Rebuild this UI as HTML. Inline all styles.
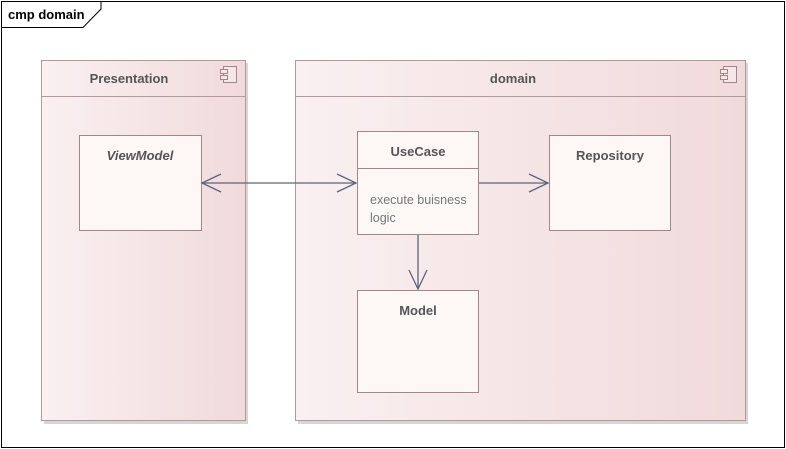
<!DOCTYPE html>
<html><head><meta charset="utf-8"><style>
body{margin:0;width:786px;height:449px;background:#fff;overflow:hidden}
svg{display:block}
text{font-family:"Liberation Sans",sans-serif}
</style></head><body>
<svg width="786" height="449" viewBox="0 0 786 449">
<defs>
<linearGradient id="g" x1="0" x2="1" y1="0" y2="0">
<stop offset="0" stop-color="#faf0f1"/><stop offset="1" stop-color="#f1dadb"/>
</linearGradient>
</defs>
<rect x="1.5" y="1.5" width="783" height="446" fill="#fff" stroke="#000" stroke-width="1"/>
<path d="M1.5 27.5 H83 L101 9 V1.5" fill="none" stroke="#000"/>
<text x="8" y="19" font-size="13" font-weight="bold" fill="#000">cmp domain</text>

<!-- Presentation -->
<rect x="44" y="63" width="204" height="361" fill="#d6d6d6"/>
<rect x="41.5" y="60.5" width="204" height="360" fill="url(#g)" stroke="#b09a9b"/>
<line x1="41.5" y1="96.5" x2="245.5" y2="96.5" stroke="#b09a9b"/>
<text x="129" y="83" font-size="13" font-weight="bold" fill="#555" text-anchor="middle">Presentation</text>
<g stroke="#a08888" fill="#f7e6e7">
<rect x="223.5" y="66.5" width="13" height="16"/>
<rect x="220.5" y="69.5" width="7" height="4"/><rect x="220.5" y="75.5" width="7" height="4"/>
</g>

<!-- domain -->
<rect x="298" y="63" width="450" height="361" fill="#d6d6d6"/>
<rect x="295.5" y="60.5" width="450" height="360" fill="url(#g)" stroke="#b09a9b"/>
<line x1="295.5" y1="96.5" x2="745.5" y2="96.5" stroke="#b09a9b"/>
<text x="513" y="83" font-size="13" font-weight="bold" fill="#555" text-anchor="middle">domain</text>
<g stroke="#a08888" fill="#f7e6e7">
<rect x="723.5" y="66.5" width="13" height="16"/>
<rect x="720.5" y="69.5" width="7" height="4"/><rect x="720.5" y="75.5" width="7" height="4"/>
</g>

<!-- boxes -->
<g fill="#fdf8f6" stroke="#a08888">
<rect x="79.5" y="135.5" width="122" height="95"/>
<rect x="357.5" y="131.5" width="121" height="103"/>
<rect x="549.5" y="135.5" width="121" height="95"/>
<rect x="357.5" y="290.5" width="121" height="102"/>
</g>
<line x1="357.5" y1="168.5" x2="478.5" y2="168.5" stroke="#a08888"/>
<text x="140" y="160" font-size="13" font-weight="bold" font-style="italic" fill="#555" text-anchor="middle">ViewModel</text>
<text x="418" y="156" font-size="13" font-weight="bold" fill="#555" text-anchor="middle">UseCase</text>
<text x="370" y="204" font-size="12.5" fill="#777">execute buisness</text>
<text x="370" y="222" font-size="12.5" fill="#777">logic</text>
<text x="610" y="160" font-size="13" font-weight="bold" fill="#555" text-anchor="middle">Repository</text>
<text x="418" y="315" font-size="13" font-weight="bold" fill="#555" text-anchor="middle">Model</text>

<!-- connectors -->
<g stroke="#5a6480" stroke-width="1.3" fill="none">
<line x1="202" y1="183" x2="356" y2="183"/>
<path d="M221 174 L202 183 L221 192"/>
<path d="M337 174 L356 183 L337 192"/>
<line x1="479" y1="183" x2="548" y2="183"/>
<path d="M529 174 L548 183 L529 192"/>
<line x1="418" y1="235" x2="418" y2="289"/>
<path d="M409 270 L418 289 L427 270"/>
</g>
</svg>
</body></html>
